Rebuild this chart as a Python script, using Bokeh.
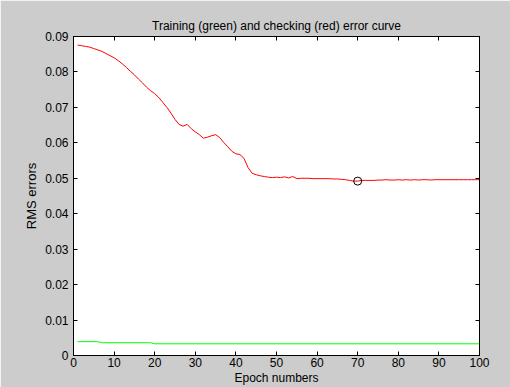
from bokeh.plotting import figure
from bokeh.models import LinearAxis, FixedTicker, Range1d
from bokeh.embed import file_html
from bokeh.resources import INLINE

# ---- data ----
epochs = list(range(1, 101))
check_err = [
    0.0876, 0.0874, 0.0872, 0.0870, 0.0866, 0.0862, 0.0858, 0.0852, 0.0846, 0.0840,
    0.0832, 0.0823, 0.0813, 0.0802, 0.0792, 0.0780, 0.0769, 0.0757, 0.0747, 0.0739,
    0.0728, 0.0714, 0.0700, 0.0684, 0.0666, 0.0652, 0.0647, 0.0652, 0.0640, 0.0631,
    0.0623, 0.0613, 0.0616, 0.0620, 0.0623, 0.0615, 0.0601, 0.0589, 0.0576, 0.0569,
    0.0567, 0.0556, 0.0530, 0.0514, 0.0510, 0.0507, 0.0505, 0.0503, 0.0502, 0.0503,
    0.0502, 0.0504, 0.0501, 0.0505, 0.0499, 0.0500, 0.0500, 0.0500, 0.0499, 0.0499,
    0.0499, 0.0499, 0.0499, 0.0498, 0.0498, 0.0497, 0.0496, 0.0494, 0.0492, 0.0492,
    0.0494, 0.0494, 0.0494, 0.0494, 0.0495, 0.0495, 0.0496, 0.0495, 0.0495, 0.0496,
    0.0495, 0.0496, 0.0495, 0.0496, 0.0495, 0.0496, 0.0496, 0.0495, 0.0496, 0.0496,
    0.0496, 0.0496, 0.0496, 0.0496, 0.0496, 0.0496, 0.0496, 0.0496, 0.0496, 0.0496,
]
train_epochs = [1, 6, 7, 19, 20, 100]
train_err = [0.0039, 0.0039, 0.0036, 0.0036, 0.0033, 0.0033]
best_epoch = [70]
best_err = [0.0492]

x_ticks = [0, 10, 20, 30, 40, 50, 60, 70, 80, 90, 100]
y_ticks = [0, 0.01, 0.02, 0.03, 0.04, 0.05, 0.06, 0.07, 0.08, 0.09]
y_tick_labels = ["0", "0.01", "0.02", "0.03", "0.04", "0.05", "0.06", "0.07", "0.08", "0.09"]

FONT = "Liberation Sans"
FS = "12px"

p = figure(width=510, height=387, output_backend="svg", toolbar_location=None,
           x_range=Range1d(0, 100), y_range=Range1d(0, 0.09),
           min_border_left=73, min_border_right=31, min_border_top=36, min_border_bottom=31,
           background_fill_color="white", border_fill_color="#cccccc",
           outline_line_color="black", outline_line_width=1,
           title="Training (green) and checking (red) error curve")
p.grid.visible = False
p.title.align = "center"
p.title.text_font = FONT
p.title.text_font_size = FS
p.title.text_font_style = "normal"
p.title.text_color = "black"
p.title.standoff = 8

def style(ax, ticks, show_labels):
    ax.ticker = FixedTicker(ticks=ticks)
    ax.major_tick_in = 4
    ax.major_tick_out = 0
    ax.minor_tick_line_color = None
    ax.axis_line_color = "black"
    ax.major_tick_line_color = "black"
    ax.major_label_text_font = FONT
    if show_labels:
        ax.major_label_text_font_size = FS
        ax.major_label_text_color = "black"
    else:
        ax.major_label_text_font_size = "1px"
        ax.major_label_text_color = None
    ax.axis_label_text_font = FONT
    ax.axis_label_text_font_size = FS
    ax.axis_label_text_font_style = "normal"
    ax.axis_label_text_color = "black"

xa = p.xaxis[0]
style(xa, x_ticks, True)
xa.axis_label = "Epoch numbers"
xa.major_label_standoff = 2
xa.axis_label_standoff = 1

ya = p.yaxis[0]
style(ya, y_ticks, True)
ya.axis_label = "RMS errors"
ya.axis_label_text_font_size = "13px"
ya.major_label_standoff = 5
ya.axis_label_standoff = 3
ya.major_label_overrides = {t: l for t, l in zip(y_ticks, y_tick_labels)}

top = LinearAxis()
style(top, x_ticks, False)
top.major_label_standoff = 0
p.add_layout(top, "above")

right = LinearAxis()
style(right, y_ticks, False)
right.major_label_standoff = 0
p.add_layout(right, "right")

p.line(epochs, check_err, line_color="#ff0000", line_width=1)
p.line(train_epochs, train_err, line_color="#00ff00", line_width=1)
p.scatter(best_epoch, best_err, marker="circle", size=8, fill_color=None,
          line_color="black", line_width=1)

open("out.html", "w").write(file_html(p, INLINE))
